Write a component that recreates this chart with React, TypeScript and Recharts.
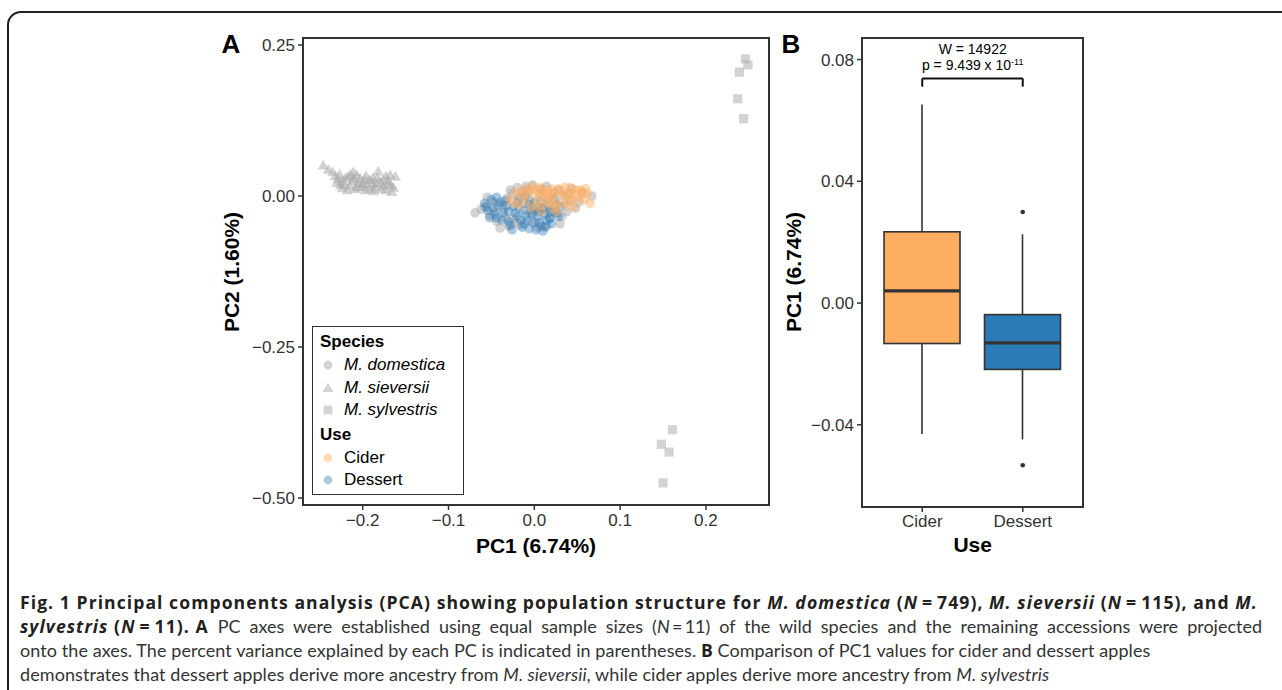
import React from 'react';
import {
  ScatterChart,
  Scatter,
  ComposedChart,
  Bar,
  XAxis,
  YAxis,
  ReferenceLine,
  ReferenceDot,
} from 'recharts';

const FONT = '"Liberation Sans", Arial, sans-serif';
const INK = '#333333';

// Panel A: PCA scores (PC1, PC2)
const pc1Ticks = [-0.2, -0.1, 0, 0.1, 0.2];
const pc2Ticks = [-0.5, -0.25, 0, 0.25];

const sieversiiPts: [number, number][] = [
  [-0.246, 0.051], [-0.240, 0.044], [-0.235, 0.040], [-0.232, 0.033], [-0.230, 0.022],
  [-0.229, 0.028], [-0.227, 0.036], [-0.226, 0.018], [-0.224, 0.025], [-0.224, 0.013],
  [-0.221, 0.020], [-0.220, 0.030], [-0.218, 0.010], [-0.217, 0.033], [-0.215, 0.017],
  [-0.214, 0.035], [-0.212, 0.025], [-0.211, 0.040], [-0.210, 0.028], [-0.209, 0.012],
  [-0.207, 0.035], [-0.206, 0.015], [-0.205, 0.022], [-0.203, 0.030], [-0.201, 0.015],
  [-0.200, 0.020], [-0.198, 0.027], [-0.197, 0.010], [-0.196, 0.033], [-0.195, 0.018],
  [-0.192, 0.027], [-0.191, 0.012], [-0.189, 0.022], [-0.188, 0.030], [-0.187, 0.008],
  [-0.186, 0.015], [-0.184, 0.020], [-0.183, 0.030], [-0.182, 0.041], [-0.180, 0.023],
  [-0.178, 0.012], [-0.176, 0.017], [-0.176, 0.027], [-0.173, 0.033], [-0.173, 0.010],
  [-0.171, 0.025], [-0.170, 0.020], [-0.168, 0.035], [-0.167, 0.018], [-0.166, 0.007],
  [-0.164, 0.014], [-0.162, 0.032],
];

const sylvestrisPts: [number, number][] = [
  [0.246, 0.227], [0.249, 0.217], [0.239, 0.205], [0.237, 0.161], [0.244, 0.128],
  [0.161, -0.387], [0.148, -0.411], [0.157, -0.424], [0.150, -0.475],
];

const domesticaPts: [number, number][] = [
  [-0.069, -0.028], [-0.062, -0.022], [-0.058, -0.018], [-0.055, -0.002], [-0.052, -0.032],
  [-0.048, -0.010], [-0.046, -0.026], [-0.044, -0.042], [-0.040, -0.053], [-0.038, -0.014],
  [-0.036, -0.022], [-0.034, -0.036], [-0.032, -0.004], [-0.030, -0.050], [-0.028, 0.010],
  [-0.026, 0.004], [-0.025, -0.038], [-0.022, -0.044], [-0.020, 0.014], [-0.018, -0.020],
  [-0.016, -0.048], [-0.014, 0.006], [-0.012, -0.012], [-0.010, 0.016], [-0.008, 0.008],
  [-0.006, -0.008], [-0.004, -0.030], [-0.002, 0.018], [0.000, -0.024], [0.002, -0.044],
  [0.004, -0.052], [0.006, 0.004], [0.008, 0.012], [0.010, -0.020], [0.012, -0.052],
  [0.014, 0.016], [0.016, -0.004], [0.018, -0.036], [0.020, -0.028], [0.022, 0.006],
  [0.026, -0.014], [0.028, 0.010], [0.030, -0.046], [0.032, -0.034], [0.034, 0.002],
  [0.036, -0.012], [0.038, -0.026], [0.040, 0.004], [0.042, -0.008], [0.044, 0.012],
  [0.048, -0.020], [0.052, -0.010], [0.056, 0.006], [0.067, 0.000],
];

const dessertPts: [number, number][] = [
  [-0.058, -0.012], [-0.056, -0.018], [-0.054, -0.024], [-0.052, -0.036], [-0.050, -0.006],
  [-0.048, -0.020], [-0.046, -0.030], [-0.044, -0.002], [-0.044, -0.036], [-0.042, -0.016],
  [-0.040, -0.010], [-0.038, -0.040], [-0.036, -0.028], [-0.034, -0.008], [-0.032, -0.016],
  [-0.030, -0.026], [-0.030, -0.042], [-0.028, -0.048], [-0.026, -0.056], [-0.024, -0.018],
  [-0.022, -0.028], [-0.020, -0.034], [-0.020, -0.010], [-0.018, -0.004], [-0.016, -0.040],
  [-0.014, -0.052], [-0.012, -0.024], [-0.012, -0.046], [-0.010, 0.000], [-0.010, -0.032],
  [-0.008, -0.040], [-0.006, -0.014], [-0.006, -0.054], [-0.004, -0.022], [-0.002, -0.030],
  [-0.002, -0.044], [0.000, -0.010], [0.002, -0.056], [0.004, -0.020], [0.004, -0.034],
  [0.006, -0.044], [0.006, -0.026], [0.008, -0.008], [0.008, -0.050], [0.010, -0.058],
  [0.010, -0.020], [0.012, -0.030], [0.014, -0.050], [0.014, -0.040], [0.016, -0.016],
  [0.018, -0.038], [0.018, -0.026], [0.020, -0.046], [0.022, -0.024], [0.024, -0.006],
  [0.026, -0.028], [0.028, -0.034], [0.030, -0.018],
];

const ciderPts: [number, number][] = [
  [-0.028, -0.006], [-0.024, -0.012], [-0.022, 0.006], [-0.018, -0.014], [-0.016, 0.000],
  [-0.014, 0.010], [-0.012, 0.002], [-0.010, -0.008], [-0.008, 0.012], [-0.006, 0.006],
  [-0.004, -0.020], [-0.002, 0.016], [0.000, 0.004], [0.002, -0.016], [0.002, 0.010],
  [0.004, -0.008], [0.006, 0.014], [0.008, -0.026], [0.008, 0.000], [0.010, -0.016],
  [0.010, 0.008], [0.012, 0.002], [0.014, -0.010], [0.016, 0.010], [0.016, 0.004],
  [0.018, -0.006], [0.020, 0.012], [0.020, -0.012], [0.022, -0.022], [0.022, -0.002],
  [0.024, 0.004], [0.026, -0.026], [0.026, -0.016], [0.028, 0.012], [0.030, -0.012],
  [0.032, 0.008], [0.034, 0.000], [0.036, 0.015], [0.038, 0.002], [0.038, -0.016],
  [0.040, -0.008], [0.042, 0.014], [0.044, 0.006], [0.044, -0.006], [0.046, -0.018],
  [0.048, 0.002], [0.050, 0.010], [0.052, -0.004], [0.054, 0.010], [0.056, 0.004],
  [0.058, -0.006], [0.060, 0.012], [0.062, 0.004], [0.065, -0.012],
];

// Panel B: PC1 by use
const useGroups = ['Cider', 'Dessert'];
const whiskerLow = [-0.043, -0.0448];
const quartile1 = [-0.0133, -0.0218];
const medians = [0.004, -0.0131];
const quartile3 = [0.0234, -0.0038];
const whiskerHigh = [0.0652, 0.0226];
const boxFills = ['#FDAE61', '#2C7BB6'];
const dessertOutliers = [0.0299, -0.0533];
const boxTicks = [-0.04, 0, 0.04, 0.08];
const bracketTop = 0.0738;
const bracketFoot = 0.0711;
const wilcoxW = '14922';
const wilcoxP = '9.439';
const wilcoxExp = '-11';

const toPts = (arr: [number, number][]) => arr.map(([x, y]) => ({ x, y }));

const fmtSigned = (digits: number) => (v: number) =>
  (v < 0 ? '\u2212' : '') + Math.abs(v).toFixed(digits);

const circleShape = (fill: string, op: number) => (p: any) => (
  <circle cx={p.cx} cy={p.cy} r={4.8} fill={fill} fillOpacity={op} />
);

const triangleShape = (p: any) => (
  <polygon
    points={`${p.cx},${p.cy - 5.6} ${p.cx - 5.6},${p.cy + 4.2} ${p.cx + 5.6},${p.cy + 4.2}`}
    fill="#A8A8A8"
    fillOpacity={0.5}
  />
);

const squareShape = (p: any) => (
  <rect x={p.cx - 4.6} y={p.cy - 4.6} width={9.2} height={9.2} fill="#A8A8A8" fillOpacity={0.5} />
);

function BoxShape(props: any) {
  const { x, y, width, height, payload } = props;
  const top = Math.min(y, y + height);
  const bottom = Math.max(y, y + height);
  const span = payload.hi - payload.lo;
  const py = (v: number) => top + ((payload.hi - v) / span) * (bottom - top);
  const cx = x + width / 2;
  return (
    <g>
      <line x1={cx} x2={cx} y1={top} y2={py(payload.q3)} stroke={INK} strokeWidth={1.6} />
      <line x1={cx} x2={cx} y1={py(payload.q1)} y2={bottom} stroke={INK} strokeWidth={1.6} />
      <rect
        x={x}
        y={py(payload.q3)}
        width={width}
        height={py(payload.q1) - py(payload.q3)}
        fill={payload.fill}
        stroke={INK}
        strokeWidth={1.6}
      />
      <line x1={x} x2={x + width} y1={py(payload.med)} y2={py(payload.med)} stroke={INK} strokeWidth={3.2} />
    </g>
  );
}

const tickStyle = { fill: INK, fontSize: 17, fontFamily: FONT };

const absText = (
  left: number,
  top: number,
  content: React.ReactNode,
  style: React.CSSProperties = {}
) => (
  <div
    style={{
      position: 'absolute',
      left,
      top,
      transform: 'translate(-50%, -50%)',
      whiteSpace: 'nowrap',
      fontFamily: FONT,
      color: '#000',
      ...style,
    }}
  >
    {content}
  </div>
);

function SpeciesLegend() {
  const row = (sym: React.ReactNode, label: React.ReactNode, italic = true) => (
    <div style={{ display: 'flex', alignItems: 'center', height: 22.5 }}>
      <svg width={16} height={14} style={{ marginRight: 8 }}>
        {sym}
      </svg>
      <span style={{ fontStyle: italic ? 'italic' : 'normal' }}>{label}</span>
    </div>
  );
  return (
    <div
      style={{
        position: 'absolute',
        left: 312,
        top: 326,
        width: 152,
        height: 169,
        boxSizing: 'border-box',
        border: `1.6px solid ${INK}`,
        background: '#fff',
        fontFamily: FONT,
        fontSize: 17,
        color: '#000',
        padding: '4px 0 0 7px',
        lineHeight: '22px',
      }}
    >
      <div style={{ fontWeight: 'bold', height: 23 }}>Species</div>
      {row(<circle cx={8} cy={7} r={4.4} fill="#A8A8A8" fillOpacity={0.5} />, 'M. domestica')}
      {row(<polygon points="8,1.8 2.6,11 13.4,11" fill="#A8A8A8" fillOpacity={0.5} />, 'M. sieversii')}
      {row(<rect x={3.6} y={2.6} width={8.8} height={8.8} fill="#A8A8A8" fillOpacity={0.5} />, 'M. sylvestris')}
      <div style={{ fontWeight: 'bold', height: 25, lineHeight: '26px' }}>Use</div>
      {row(<circle cx={8} cy={7} r={4.4} fill="#FDAE61" fillOpacity={0.45} />, 'Cider', false)}
      {row(<circle cx={8} cy={7} r={4.4} fill="#2C7BB6" fillOpacity={0.4} />, 'Dessert', false)}
    </div>
  );
}

const boldCap: React.CSSProperties = {
  fontFamily: '"Open Sans", Lato, sans-serif',
  fontWeight: 700,
  fontSize: 17.6,
  letterSpacing: 1.05,
  wordSpacing: 0,
  color: '#231f20',
};

export default function App() {
  const boxData = useGroups.map((u, i) => ({
    use: u,
    range: [whiskerLow[i], whiskerHigh[i]],
    lo: whiskerLow[i],
    q1: quartile1[i],
    med: medians[i],
    q3: quartile3[i],
    hi: whiskerHigh[i],
    fill: boxFills[i],
  }));

  const captionStyle: React.CSSProperties = {
    position: 'absolute',
    left: 20,
    top: 590,
    fontFamily: 'Lato, "Open Sans", sans-serif',
    fontSize: 18,
    lineHeight: '24px',
    color: '#333',
    whiteSpace: 'nowrap',
  };

  return (
    <div
      style={{
        position: 'absolute',
        left: 0,
        top: 0,
        width: 1282,
        height: 690,
        background: '#fff',
        overflow: 'hidden',
      }}
    >
      {/* outer figure frame */}
      <div
        style={{
          position: 'absolute',
          left: 7,
          top: 11,
          width: 1300,
          height: 720,
          border: '2px solid #231f20',
          borderTopLeftRadius: 14,
          boxSizing: 'border-box',
        }}
      />

      {/* Panel A */}
      <div style={{ position: 'absolute', left: 0, top: 0 }}>
        <ScatterChart width={800} height={560} margin={{ top: 38, right: 31, bottom: 25, left: 243 }}>
          <XAxis
            type="number"
            dataKey="x"
            domain={[-0.2696, 0.2735]}
            ticks={pc1Ticks}
            allowDataOverflow
            axisLine={false}
            tickLine={{ stroke: INK, strokeWidth: 1.5 }}
            tickSize={5}
            tickMargin={4}
            height={30}
            tick={tickStyle}
            tickFormatter={fmtSigned(1)}
          />
          <YAxis
            type="number"
            dataKey="y"
            domain={[-0.5116, 0.2616]}
            ticks={pc2Ticks}
            allowDataOverflow
            axisLine={false}
            tickLine={{ stroke: INK, strokeWidth: 1.5 }}
            tickSize={5}
            tickMargin={3}
            width={60}
            tick={tickStyle}
            tickFormatter={fmtSigned(2)}
          />
          <Scatter data={toPts(sylvestrisPts)} shape={squareShape} isAnimationActive={false} />
          <Scatter data={toPts(sieversiiPts)} shape={triangleShape} isAnimationActive={false} />
          <Scatter data={toPts(domesticaPts)} shape={circleShape('#A8A8A8', 0.5)} isAnimationActive={false} />
          <Scatter data={toPts(dessertPts)} shape={circleShape('#2C7BB6', 0.4)} isAnimationActive={false} />
          <Scatter data={toPts(ciderPts)} shape={circleShape('#FDAE61', 0.45)} isAnimationActive={false} />
        </ScatterChart>
      </div>
      <div
        style={{
          position: 'absolute',
          left: 302,
          top: 37,
          width: 468,
          height: 469,
          border: `2px solid ${INK}`,
          boxSizing: 'border-box',
          pointerEvents: 'none',
        }}
      />
      <SpeciesLegend />
      {absText(231, 44, 'A', { fontWeight: 'bold', fontSize: 26 })}
      {absText(536, 546, 'PC1 (6.74%)', { fontWeight: 'bold', fontSize: 21 })}
      {absText(232, 272, 'PC2 (1.60%)', {
        fontWeight: 'bold',
        fontSize: 21,
        transform: 'translate(-50%, -50%) rotate(-90deg)',
      })}

      {/* Panel B */}
      <div style={{ position: 'absolute', left: 780, top: 0 }}>
        <ComposedChart
          width={330}
          height={560}
          data={boxData}
          margin={{ top: 37, right: 27, bottom: 23, left: 22 }}
        >
          <XAxis
            dataKey="use"
            type="category"
            padding={{ left: 10, right: 10 }}
            axisLine={false}
            tickLine={{ stroke: INK, strokeWidth: 1.5 }}
            tickSize={5}
            tickMargin={3}
            height={30}
            tick={tickStyle}
          />
          <YAxis
            type="number"
            domain={[-0.067, 0.0874]}
            ticks={boxTicks}
            allowDataOverflow
            axisLine={false}
            tickLine={{ stroke: INK, strokeWidth: 1.5 }}
            tickSize={5}
            tickMargin={3}
            width={60}
            tick={tickStyle}
            tickFormatter={fmtSigned(2)}
          />
          <Bar dataKey="range" barSize={76} shape={BoxShape} isAnimationActive={false} />
          {dessertOutliers.map((v, i) => (
            <ReferenceDot key={i} x="Dessert" y={v} r={2.3} fill={INK} stroke="none" />
          ))}
          <ReferenceLine
            segment={[{ x: 'Cider', y: bracketTop }, { x: 'Dessert', y: bracketTop }]}
            stroke="#111"
            strokeWidth={2}
          />
          <ReferenceLine
            segment={[{ x: 'Cider', y: bracketTop }, { x: 'Cider', y: bracketFoot }]}
            stroke="#111"
            strokeWidth={2}
          />
          <ReferenceLine
            segment={[{ x: 'Dessert', y: bracketTop }, { x: 'Dessert', y: bracketFoot }]}
            stroke="#111"
            strokeWidth={2}
          />
        </ComposedChart>
      </div>
      <div
        style={{
          position: 'absolute',
          left: 861,
          top: 37,
          width: 223,
          height: 471,
          border: `2px solid ${INK}`,
          boxSizing: 'border-box',
          pointerEvents: 'none',
        }}
      />
      {absText(791, 44, 'B', { fontWeight: 'bold', fontSize: 26 })}
      {absText(972.7, 49, `W = ${wilcoxW}`, { fontSize: 14 })}
      {absText(972.7, 65, (
        <span>
          p = {wilcoxP} x 10<sup style={{ fontSize: 9, verticalAlign: 'top', lineHeight: '10px' }}>{wilcoxExp}</sup>
        </span>
      ), { fontSize: 14 })}
      {absText(972.7, 545, 'Use', { fontWeight: 'bold', fontSize: 21 })}
      {absText(794, 272, 'PC1 (6.74%)', {
        fontWeight: 'bold',
        fontSize: 21,
        transform: 'translate(-50%, -50%) rotate(-90deg)',
      })}

      {/* Caption */}
      <div style={captionStyle}>
        <div style={boldCap}>
          Fig. 1 Principal components analysis (PCA) showing population structure for <i>M. domestica</i> (<i>N</i>{'\u2009=\u2009'}749), <i>M. sieversii</i> (<i>N</i>{'\u2009=\u2009'}115), and <i>M.</i>
        </div>
        <div style={{ wordSpacing: 4.4 }}>
          <b style={boldCap}>
            <i>sylvestris</i> (<i>N</i>{'\u2009=\u2009'}11). A
          </b>{' '}
          PC axes were established using equal sample sizes (<i>N</i>{'\u2009=\u2009'}11) of the wild species and the remaining accessions were projected
        </div>
        <div style={{ letterSpacing: 0.08 }}>
          onto the axes. The percent variance explained by each PC is indicated in parentheses. <b style={{ ...boldCap, letterSpacing: 0 }}>B</b> Comparison of PC1 values for cider and dessert apples
        </div>
        <div style={{ letterSpacing: 0.08 }}>
          demonstrates that dessert apples derive more ancestry from <i>M. sieversii</i>, while cider apples derive more ancestry from <i>M. sylvestris</i>
        </div>
      </div>
    </div>
  );
}
